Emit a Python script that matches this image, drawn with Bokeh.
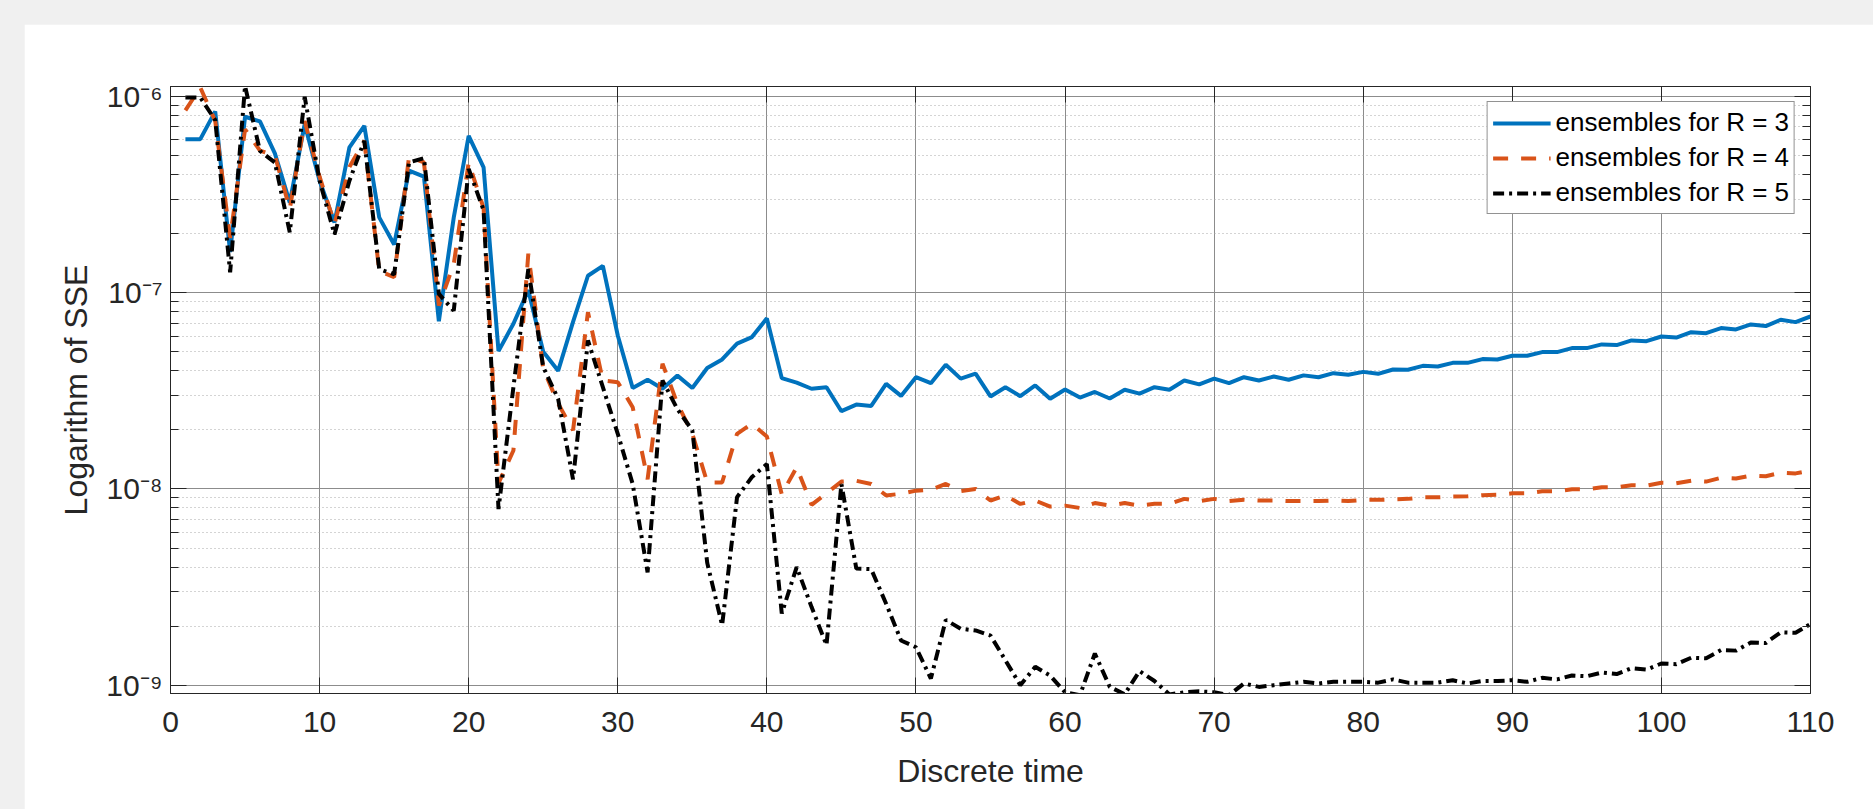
from bokeh.plotting import figure
from bokeh.models import (Range1d, LogAxis, LinearAxis, FixedTicker, LogTicker,
                          CustomJSTickFormatter, Legend, LegendItem, Column)
from bokeh.embed import file_html
from bokeh.resources import INLINE

# ---------------- data ----------------
t = list(range(1, 111))

sse_r3 = [6.06e-7, 6.06e-7, 8.39e-7, 1.61e-7, 7.88e-7, 7.46e-7, 5.13e-7, 2.88e-7, 7.22e-7, 3.72e-7,
          2.28e-7, 5.5e-7, 7.09e-7, 2.42e-7, 1.76e-7, 4.19e-7, 3.9e-7, 7.15e-8, 2.42e-7, 6.3e-7,
          4.35e-7, 5.04e-8, 6.95e-8, 1.03e-7, 5.0e-8, 4.0e-8, 7.1e-8, 1.22e-7, 1.37e-7, 6.05e-8,
          3.27e-8, 3.6e-8, 3.24e-8, 3.78e-8, 3.27e-8, 4.13e-8, 4.57e-8, 5.5e-8, 5.94e-8, 7.4e-8,
          3.67e-8, 3.48e-8, 3.24e-8, 3.3e-8, 2.49e-8, 2.69e-8, 2.65e-8, 3.43e-8, 2.98e-8, 3.71e-8,
          3.46e-8, 4.29e-8, 3.65e-8, 3.87e-8, 2.96e-8, 3.3e-8, 2.97e-8, 3.37e-8, 2.88e-8, 3.21e-8,
          2.92e-8, 3.12e-8, 2.89e-8, 3.2e-8, 3.06e-8, 3.3e-8, 3.2e-8, 3.57e-8, 3.41e-8, 3.65e-8,
          3.46e-8, 3.71e-8, 3.57e-8, 3.74e-8, 3.6e-8, 3.79e-8, 3.71e-8, 3.89e-8, 3.82e-8, 3.95e-8,
          3.86e-8, 4.06e-8, 4.05e-8, 4.24e-8, 4.21e-8, 4.39e-8, 4.39e-8, 4.59e-8, 4.57e-8, 4.77e-8,
          4.77e-8, 4.98e-8, 4.98e-8, 5.22e-8, 5.22e-8, 5.45e-8, 5.41e-8, 5.71e-8, 5.66e-8, 5.98e-8,
          5.91e-8, 6.29e-8, 6.22e-8, 6.6e-8, 6.5e-8, 6.89e-8, 6.76e-8, 7.28e-8, 7.08e-8, 7.57e-8]

sse_r4 = [8.5e-7, 1.11e-6, 7.5e-7, 1.9e-7, 6.8e-7, 5.3e-7, 5.0e-7, 2.67e-7, 7.5e-7, 3.9e-7,
          2.24e-7, 4.37e-7, 5.94e-7, 1.29e-7, 1.2e-7, 4.93e-7, 4.61e-7, 8.6e-8, 1.4e-7, 4.6e-7,
          2.7e-7, 1.07e-8, 1.57e-8, 1.58e-7, 4.1e-8, 2.72e-8, 1.99e-8, 7.96e-8, 3.57e-8, 3.5e-8,
          2.61e-8, 1.12e-8, 4.35e-8, 2.72e-8, 1.91e-8, 1.08e-8, 1.08e-8, 1.91e-8, 2.15e-8, 1.85e-8,
          9.4e-9, 1.29e-8, 8.3e-9, 9.5e-9, 1.09e-8, 1.1e-8, 1.06e-8, 9.27e-9, 9.45e-9, 9.8e-9,
          9.9e-9, 1.06e-8, 9.75e-9, 1.0e-8, 8.73e-9, 9.27e-9, 8.39e-9, 8.73e-9, 8.13e-9, 8.22e-9,
          8.0e-9, 8.47e-9, 8.22e-9, 8.47e-9, 8.22e-9, 8.4e-9, 8.4e-9, 8.9e-9, 8.67e-9, 8.9e-9,
          8.67e-9, 8.8e-9, 8.73e-9, 8.73e-9, 8.67e-9, 8.67e-9, 8.67e-9, 8.73e-9, 8.67e-9, 8.8e-9,
          8.8e-9, 8.85e-9, 8.9e-9, 9.06e-9, 9.06e-9, 9.14e-9, 9.17e-9, 9.3e-9, 9.33e-9, 9.5e-9,
          9.5e-9, 9.73e-9, 9.73e-9, 9.96e-9, 9.96e-9, 1.02e-8, 1.02e-8, 1.045e-8, 1.04e-8, 1.075e-8,
          1.07e-8, 1.1e-8, 1.09e-8, 1.14e-8, 1.13e-8, 1.17e-8, 1.16e-8, 1.21e-8, 1.2e-8, 1.24e-8]

sse_r5 = [9.88e-7, 9.88e-7, 7.58e-7, 1.27e-7, 1.13e-6, 5.28e-7, 4.61e-7, 2.03e-7, 9.96e-7, 3.72e-7,
          1.98e-7, 3.72e-7, 5.94e-7, 1.32e-7, 1.24e-7, 4.61e-7, 4.85e-7, 9.86e-8, 8.1e-8, 4.27e-7,
          2.63e-7, 7.9e-9, 3.3e-8, 1.32e-7, 4.18e-8, 2.88e-8, 1.12e-8, 5.71e-8, 3.3e-8, 1.91e-8,
          1.06e-8, 3.76e-9, 3.57e-8, 2.55e-8, 1.99e-8, 4.2e-9, 2.02e-9, 9.08e-9, 1.15e-8, 1.34e-8,
          2.32e-9, 4.0e-9, 2.5e-9, 1.6e-9, 1.06e-8, 3.93e-9, 3.9e-9, 2.6e-9, 1.69e-9, 1.56e-9,
          1.08e-9, 2.15e-9, 1.94e-9, 1.9e-9, 1.79e-9, 1.34e-9, 1.0e-9, 1.24e-9, 1.12e-9, 9.2e-10,
          8.9e-10, 1.45e-9, 9.8e-10, 9.0e-10, 1.18e-9, 1.05e-9, 8.97e-10, 9.2e-10, 9.3e-10, 9.2e-10,
          8.9e-10, 1.02e-9, 9.8e-10, 1.0e-9, 1.02e-9, 1.04e-9, 1.02e-9, 1.04e-9, 1.04e-9, 1.04e-9,
          1.03e-9, 1.07e-9, 1.03e-9, 1.03e-9, 1.03e-9, 1.06e-9, 1.02e-9, 1.05e-9, 1.05e-9, 1.06e-9,
          1.04e-9, 1.09e-9, 1.07e-9, 1.12e-9, 1.11e-9, 1.16e-9, 1.14e-9, 1.22e-9, 1.2e-9, 1.29e-9,
          1.28e-9, 1.38e-9, 1.37e-9, 1.51e-9, 1.5e-9, 1.65e-9, 1.64e-9, 1.86e-9, 1.85e-9, 2.05e-9]

x_ticks = [0, 10, 20, 30, 40, 50, 60, 70, 80, 90, 100, 110]
legend_labels = ["ensembles for R = 3", "ensembles for R = 4", "ensembles for R = 5"]
x_label = "Discrete time"
y_label = "Logarithm of SSE"

# ---------------- styling ----------------
AX = "#262626"
FONT = "Liberation Sans"

p = figure(width=1849, height=785,
           x_range=Range1d(0, 110), y_range=Range1d(9.07e-10, 1.124e-6),
           y_axis_type="log", output_backend="svg", toolbar_location=None,
           min_border_left=146, min_border_right=63, min_border_top=62, min_border_bottom=116,
           margin=(24, 0, 0, 24))
p.background_fill_color = "white"
p.border_fill_color = "white"
p.outline_line_color = AX
p.outline_line_width = 1

y_ticker = LogTicker(desired_num_ticks=4, num_minor_ticks=10)
sup_formatter = CustomJSTickFormatter(code="""
const e = Math.round(Math.log10(tick));
const sup = {"-":"\u207b","0":"\u2070","1":"\u00b9","2":"\u00b2","3":"\u00b3","4":"\u2074",
             "5":"\u2075","6":"\u2076","7":"\u2077","8":"\u2078","9":"\u2079"};
return "10" + String(e).split("").map(c => sup[c]).join("");
""")
blank_formatter = CustomJSTickFormatter(code="return ' ';")

x_ticker = FixedTicker(ticks=x_ticks, minor_ticks=[])

xa = p.xaxis[0]
xa.ticker = x_ticker
ya = p.yaxis[0]
ya.ticker = y_ticker
ya.formatter = sup_formatter

for ax in (xa, ya):
    ax.axis_line_color = AX
    ax.major_tick_line_color = AX
    ax.minor_tick_line_color = AX
    ax.major_tick_in = 16
    ax.major_tick_out = 0
    ax.minor_tick_in = 8
    ax.minor_tick_out = 0
    ax.major_label_text_font = FONT
    ax.major_label_text_font_size = "30px"
    ax.major_label_text_color = AX
    ax.axis_label_text_font = FONT
    ax.axis_label_text_font_size = "32px"
    ax.axis_label_text_font_style = "normal"
    ax.axis_label_text_color = AX

xa.axis_label = x_label
xa.major_label_standoff = 18
xa.axis_label_standoff = 18
ya.axis_label = y_label
ya.major_label_standoff = 8
ya.axis_label_standoff = 9

# mirrored tick marks on top and right (box on)
top = LinearAxis(ticker=x_ticker, formatter=blank_formatter, major_label_standoff=0,
                 major_label_text_font_size="8px",
                 axis_line_color=AX, major_tick_line_color=AX, major_tick_in=16, major_tick_out=0,
                 minor_tick_line_color=None)
right = LogAxis(ticker=y_ticker, formatter=blank_formatter, major_label_standoff=0,
                major_label_text_font_size="8px",
                axis_line_color=AX, major_tick_line_color=AX, minor_tick_line_color=AX,
                major_tick_in=16, major_tick_out=0, minor_tick_in=8, minor_tick_out=0)
p.add_layout(top, "above")
p.add_layout(right, "right")

p.xgrid.ticker = x_ticker
p.xgrid.grid_line_color = "#8c8c8c"
p.xgrid.grid_line_width = 1
p.ygrid.ticker = y_ticker
p.ygrid.grid_line_color = "#8c8c8c"
p.ygrid.grid_line_width = 1
p.ygrid.minor_grid_line_color = "#a8a8a8"
p.ygrid.minor_grid_line_dash = "1 3"
p.ygrid.minor_grid_line_width = 1

r3 = p.line(t, sse_r3, line_color="#0072BD", line_width=4)
r4 = p.line(t, sse_r4, line_color="#D95319", line_width=4, line_dash="15 13")
r5 = p.line(t, sse_r5, line_color="#000000", line_width=4, line_dash="11 5 3 5")

legend = Legend(items=[LegendItem(label=legend_labels[0], renderers=[r3]),
                       LegendItem(label=legend_labels[1], renderers=[r4]),
                       LegendItem(label=legend_labels[2], renderers=[r5])],
                location="top_right", margin=15, padding=5, spacing=4,
                glyph_width=58, glyph_height=30, label_height=30, label_standoff=5,
                label_text_font=FONT, label_text_font_size="26px", label_text_color="black",
                border_line_color=AX, border_line_width=1,
                background_fill_color="white", background_fill_alpha=1)
p.add_layout(legend)

page = Column(children=[p], width=1873, height=809,
              styles={"background-color": "#f0f0f0"})

open("out.html", "w").write(file_html(page, INLINE))
